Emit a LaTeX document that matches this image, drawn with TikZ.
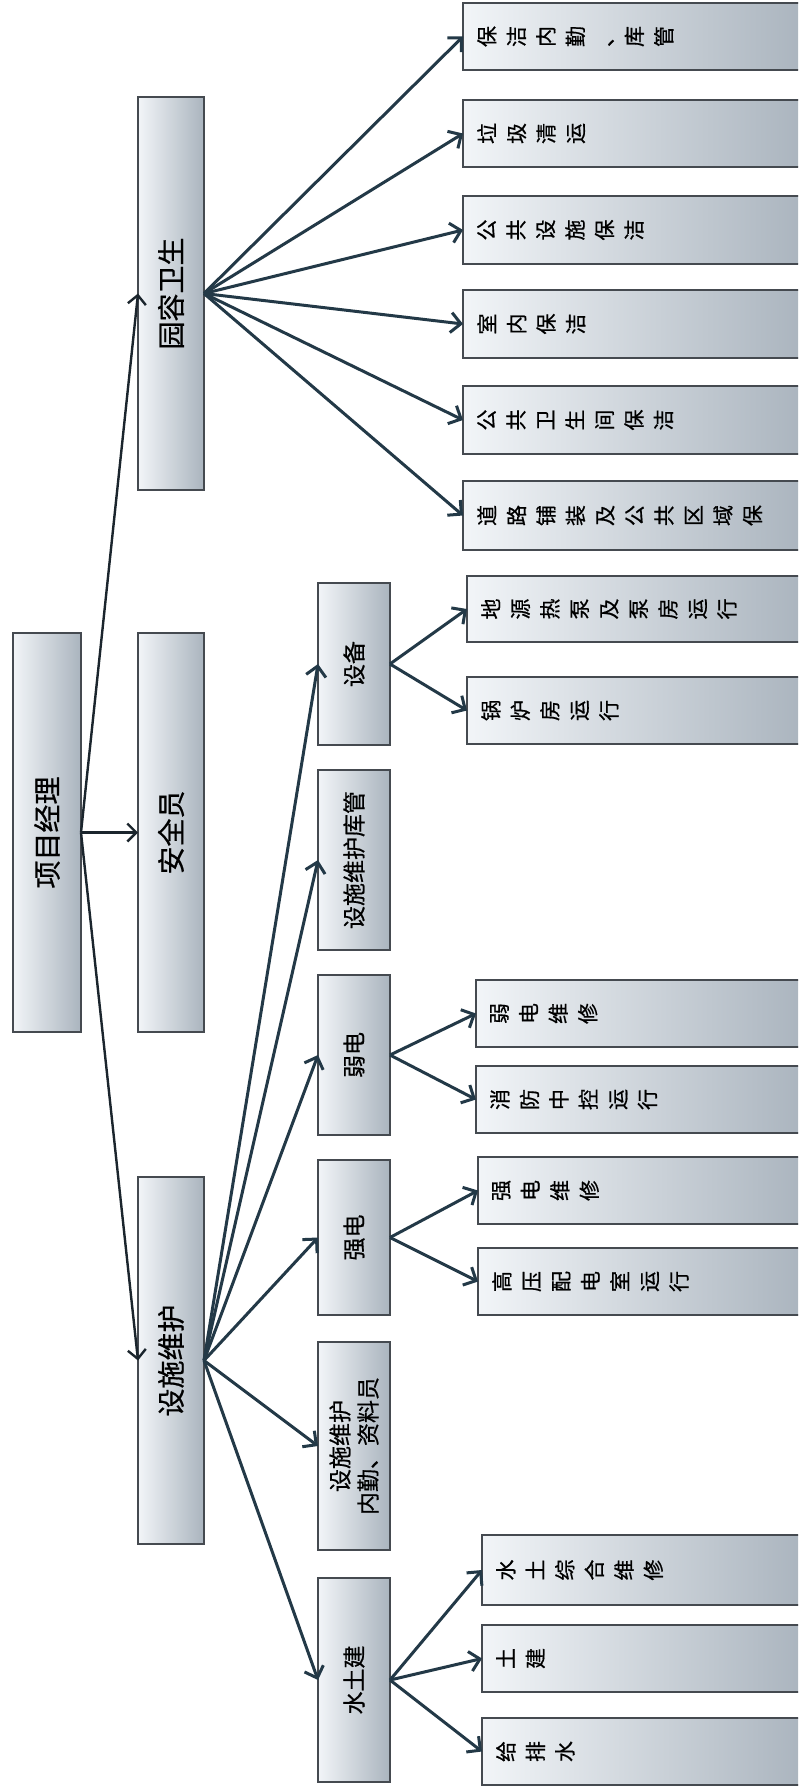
\documentclass[tikz,border=0pt]{standalone}
\usepackage{fontspec}
\newfontfamily\cjk[FakeBold=0.6]{Noto Sans CJK SC}
\usetikzlibrary{arrows.meta}
\definecolor{boxline}{HTML}{454A50}
\definecolor{boxl}{HTML}{F2F5F8}
\definecolor{boxr}{HTML}{AAB4BE}
\definecolor{arr}{HTML}{233947}
\definecolor{arrroot}{HTML}{1B252D}
\tikzset{
  box/.style={draw=boxline, line width=1.7pt, left color=boxl, right color=boxr, inner sep=0pt, outer sep=0pt},
  bigtxt/.style={rotate=90, font=\cjk\fontsize{28}{33}\selectfont, inner sep=0pt},
  midtxt/.style={rotate=90, align=center, font=\cjk\fontsize{23}{28}\selectfont, inner sep=0pt},
  leaftxt/.style={rotate=90, anchor=north, align=center, font=\cjk\fontsize{21}{29.5}\selectfont, inner sep=0pt},
  conn/.style={draw=arr, line width=3pt, -{Straight Barb[length=10pt,width=20pt]}},
  rootconn/.style={draw=arrroot, line width=2.4pt, -{Straight Barb[length=9pt,width=18pt]}},
}
\newcommand{\bx}[5]{\node[box, minimum width={#4-#2}, minimum height={#5-#3}] (#1) at ({(#2+#4)/2},{(#3+#5)/2}) {};}
\begin{document}
\begin{tikzpicture}[x=1pt,y=-1pt]
\useasboundingbox[fill=white] (0,0) rectangle (798,1787);
\begin{scope}
\clip (0,0) rectangle (798,1787);
% level 0 and 1
\bx{R}{13}{633}{81}{1032}
\bx{G}{138}{97}{204}{490}
\bx{S}{138}{633}{204}{1032}
\bx{F}{138}{1177}{204}{1544}
% level 2
\bx{E}{318}{583}{390}{745}
\bx{K}{318}{770}{390}{950}
\bx{W}{318}{975}{390}{1135}
\bx{Q}{318}{1160}{390}{1315}
\bx{N}{318}{1342}{390}{1550}
\bx{J}{318}{1578}{390}{1782}
% leaves of G
\bx{g1}{463}{3}{805}{70}
\bx{g2}{463}{100}{805}{167}
\bx{g3}{463}{196}{805}{264}
\bx{g4}{463}{290}{805}{358}
\bx{g5}{463}{386}{805}{454}
\bx{g6}{463}{481}{805}{550}
% leaves of E
\bx{e1}{467}{576}{805}{642}
\bx{e2}{467}{677}{805}{744}
% leaves of W
\bx{w1}{476}{980}{805}{1047}
\bx{w2}{476}{1066}{805}{1133}
% leaves of Q
\bx{q1}{478}{1157}{805}{1224}
\bx{q2}{478}{1248}{805}{1315}
% leaves of J
\bx{j1}{482}{1535}{805}{1605}
\bx{j2}{482}{1625}{805}{1692}
\bx{j3}{482}{1718}{805}{1785}
\end{scope}
% labels
\node[bigtxt] (tR) at (R) {项目经理};
\node[bigtxt] (tG) at (G) {园容卫生};
\node[bigtxt] (tS) at (S) {安全员};
\node[bigtxt] (tF) at (F) {设施维护};
\node[midtxt] (tE) at (E) {设备};
\node[midtxt] (tK) at (K) {设施维护库管};
\node[midtxt] (tW) at (W) {弱电};
\node[midtxt] (tQ) at (Q) {强电};
\node[midtxt] (tN) at (N) {设施维护\\内勤、资料员};
\node[midtxt] (tJ) at (J) {水土建};
\node[leaftxt] (tg1) at ([xshift=14pt]g1.west) {保\\洁\\内\\勤\\、\\库\\管};
\node[leaftxt] (tg2) at ([xshift=14pt]g2.west) {垃\\圾\\清\\运};
\node[leaftxt] (tg3) at ([xshift=14pt]g3.west) {公\\共\\设\\施\\保\\洁};
\node[leaftxt] (tg4) at ([xshift=14pt]g4.west) {室\\内\\保\\洁};
\node[leaftxt] (tg5) at ([xshift=14pt]g5.west) {公\\共\\卫\\生\\间\\保\\洁};
\node[leaftxt] (tg6) at ([xshift=14pt]g6.west) {道\\路\\铺\\装\\及\\公\\共\\区\\域\\保};
\node[leaftxt] (te1) at ([xshift=14pt]e1.west) {地\\源\\热\\泵\\及\\泵\\房\\运\\行};
\node[leaftxt] (te2) at ([xshift=14pt]e2.west) {锅\\炉\\房\\运\\行};
\node[leaftxt] (tw1) at ([xshift=14pt]w1.west) {弱\\电\\维\\修};
\node[leaftxt] (tw2) at ([xshift=14pt]w2.west) {消\\防\\中\\控\\运\\行};
\node[leaftxt] (tq1) at ([xshift=14pt]q1.west) {强\\电\\维\\修};
\node[leaftxt] (tq2) at ([xshift=14pt]q2.west) {高\\压\\配\\电\\室\\运\\行};
\node[leaftxt] (tj1) at ([xshift=14pt]j1.west) {水\\土\\综\\合\\维\\修};
\node[leaftxt] (tj2) at ([xshift=14pt]j2.west) {土\\建};
\node[leaftxt] (tj3) at ([xshift=14pt]j3.west) {给\\排\\水};
% connectors
\foreach \c in {G,S,F} \draw[rootconn] (R.east) -- (\c.west);
\foreach \c in {g1,g2,g3,g4,g5,g6} \draw[conn] (G.east) -- (\c.west);
\foreach \c in {E,K,W,Q,N,J} \draw[conn] (F.east) -- (\c.west);
\foreach \c in {e1,e2} \draw[conn] (E.east) -- (\c.west);
\foreach \c in {w1,w2} \draw[conn] (W.east) -- (\c.west);
\foreach \c in {q1,q2} \draw[conn] (Q.east) -- (\c.west);
\foreach \c in {j1,j2,j3} \draw[conn] (J.east) -- (\c.west);
\end{tikzpicture}
\end{document}
